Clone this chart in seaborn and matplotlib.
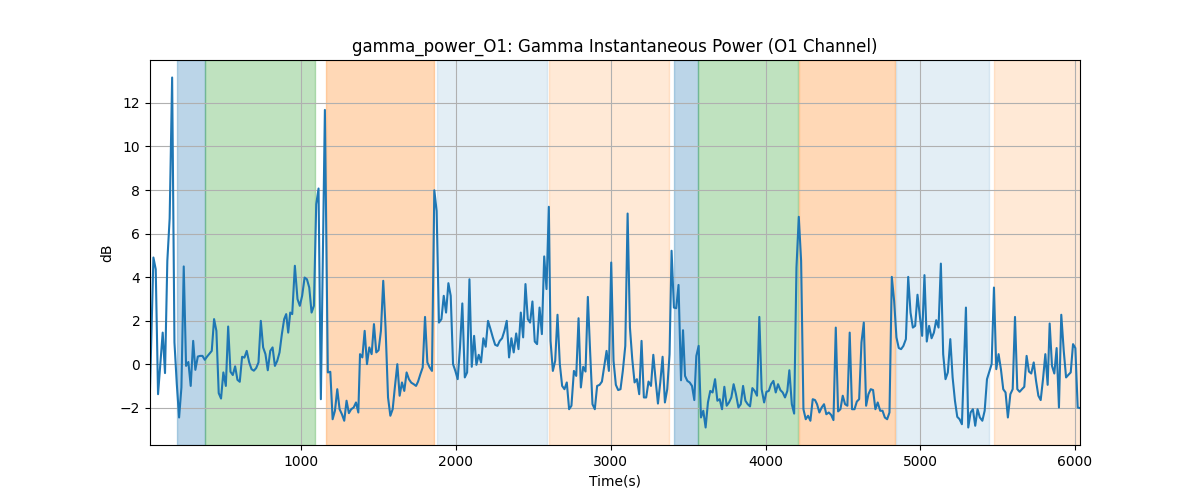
import matplotlib
matplotlib.use("Agg")
import matplotlib.pyplot as plt
import seaborn as sns
import pandas as pd

time_s = [
    23, 45, 60, 75, 105, 120, 135, 150, 166, 181, 196, 211, 226, 241, 256, 271, 286, 302, 316, 332,
    347, 362, 377, 392, 407, 422, 437, 452, 467, 482, 497, 513, 528, 543, 558, 573, 588, 603, 618, 633,
    648, 664, 679, 694, 709, 724, 739, 754, 769, 784, 800, 815, 830, 845, 860, 875, 890,
    903, 916, 929, 942, 959, 976, 991, 1006, 1022, 1037, 1052, 1067, 1082, 1097, 1112, 1127, 1153,
    1172, 1188, 1203, 1218, 1233, 1248, 1263, 1278, 1293, 1308, 1323, 1339, 1354, 1369, 1380, 1395,
    1410, 1425, 1440, 1455, 1470, 1485, 1500, 1515, 1530, 1545, 1561, 1576, 1591, 1606, 1621, 1636,
    1651, 1666, 1681, 1696, 1711, 1727, 1742,
    1755, 1770, 1785, 1800, 1815, 1830, 1845, 1860, 1875, 1890, 1906, 1921, 1936, 1951, 1966, 1981,
    1996, 2011, 2026, 2041, 2057, 2072, 2087, 2102, 2117, 2132, 2147, 2162, 2177, 2192, 2207, 2223,
    2238, 2253, 2268, 2283, 2298, 2313, 2328, 2343, 2358, 2373, 2389, 2404, 2419, 2434, 2449, 2464,
    2479, 2494, 2509, 2524, 2540, 2555, 2570, 2585, 2600,
    2611, 2626, 2641, 2656, 2671, 2686, 2701, 2716, 2731, 2746, 2762, 2777, 2792, 2807, 2822, 2837,
    2852, 2867, 2882, 2897, 2912, 2928, 2943, 2958, 2973, 2988, 3003, 3018, 3033, 3048, 3063, 3078,
    3094, 3109, 3124, 3139, 3154, 3169, 3184, 3199, 3214, 3229, 3244, 3260, 3275, 3290, 3305, 3320,
    3335, 3350, 3365, 3380, 3393, 3408, 3423, 3438, 3454, 3467,
    3480, 3495, 3510, 3525, 3540, 3553, 3568, 3583, 3598, 3613, 3628, 3643, 3658, 3674, 3689, 3704,
    3719, 3734, 3749, 3764, 3779, 3794, 3809, 3825, 3840, 3855, 3870, 3885, 3900, 3915, 3930, 3945,
    3960, 3975, 3991, 4006, 4021, 4036, 4051, 4066, 4081, 4096, 4111, 4126, 4141, 4154, 4170, 4185,
    4200, 4215, 4230, 4245, 4260, 4275, 4290, 4305, 4320,
    4333, 4348, 4363, 4378, 4393, 4409, 4424, 4439, 4454, 4469, 4484, 4499, 4514, 4529, 4544, 4559,
    4575, 4590, 4605, 4620, 4635, 4650, 4665, 4680, 4695, 4710, 4725, 4741, 4756, 4771, 4786, 4801,
    4816, 4831, 4846, 4861, 4876, 4891, 4907, 4922, 4937, 4952, 4967, 4982, 4997, 5012, 5027, 5042,
    5057, 5073, 5088, 5103, 5118, 5133, 5148, 5163, 5178, 5194,
    5209, 5224, 5239, 5254, 5269, 5295, 5310, 5325, 5340, 5355, 5370, 5385, 5401, 5416, 5431, 5446,
    5461, 5476, 5491, 5506, 5521, 5536, 5551, 5566, 5582, 5597, 5612, 5627, 5642, 5657, 5672, 5687,
    5702, 5717, 5733, 5748, 5763, 5778, 5793, 5808, 5823, 5836, 5851, 5866, 5881, 5896, 5911, 5927,
    5942, 5957, 5972, 5987, 6002, 6017, 6032,
]

power_db = [
    -1.15, 4.9, 4.36, -1.38, 1.45, -0.41, 4.75, 6.7, 13.17, 1.0, -0.9, -2.45, -1.07, 4.49, -0.08, 0.1, -1.0, 1.07, -0.26, 0.35,
    0.38, 0.38, 0.2, 0.35, 0.48, 0.61, 2.07, 1.53, -1.33, -1.58, -0.38, -1.0, 1.73, -0.35, -0.5, -0.1, -0.72, -0.81, 0.34, 0.3,
    0.61, 0.08, -0.23, -0.3, -0.18, 0.08, 1.99, 0.77, 0.46, -0.28, 0.61, 0.77, -0.08, 0.15, 0.54, 1.38, 2.07,
    2.3, 1.45, 2.37, 2.3, 4.52, 2.99, 2.68, 3.14, 3.98, 3.9, 3.52, 2.37, 2.68, 7.35, 8.07, -1.61, 11.68,
    -0.38, -0.35, -2.53, -2.14, -1.15, -2.07, -2.3, -2.6, -1.68, -2.25, -2.07, -1.99, -1.76, -2.22, 0.46, 0.31,
    1.53, 0.0, 0.77, 0.46, 1.84, 0.54, 0.64, 1.53, 3.83, 1.68, -1.53, -2.37, -2.07, -1.0, 0.0, -1.45,
    -0.84, -1.23, -0.38, -0.69, -0.85, -0.92, -1.0,
    -0.8, -0.46, -0.15, 2.17, 0.08, -0.15, -0.31, 7.99, 7.04, 1.91, 2.07, 3.14, 2.37, 3.72, 3.14, 0.0,
    -0.31, -0.69, 0.77, 2.79, -0.61, -0.38, 3.9, -0.12, 1.3, -0.03, 0.43, 0.08, 1.19, 0.8, 1.99, 1.61,
    1.23, 0.89, 0.84, 1.07, 1.19, 1.53, 1.99, 0.31, 1.19, 0.54, 1.41, 0.69, 2.37, 1.23, 3.68, 2.07,
    1.91, 2.88, 1.04, 0.92, 2.6, 1.38, 4.95, 3.45, 7.23,
    1.07, -0.31, 0.15, 2.27, 0.0, -1.0, -1.15, -0.84, -2.07, -1.91, -0.31, -0.54, 2.11, -1.07, -0.12, -0.34,
    3.09, 0.54, -1.84, -2.07, -1.0, -0.95, -0.8, -0.08, 0.61, -0.31, 4.67, 0.15, -0.95, -1.19, -1.15, -0.31,
    0.84, 6.92, 1.68, 0.23, -0.84, -0.69, -1.38, 1.07, -1.53, -1.53, -0.8, -1.0, 0.43, -0.74, -1.81, -0.84,
    0.34, -1.76, -1.15, 0.46, 5.21, 2.6, 2.57, 3.64, -0.74, 1.56,
    -0.54, -0.77, -0.84, -1.0, -1.65, 0.38, 0.84, -2.45, -2.14, -2.91, -1.76, -1.23, -1.3, -0.69, -1.68, -1.61,
    -2.07, -1.04, -1.91, -1.76, -1.53, -0.92, -1.38, -1.99, -1.84, -1.0, -1.68, -1.84, -1.94, -1.1, -1.23, -1.45,
    2.17, -1.15, -1.76, -1.27, -1.23, -0.92, -0.77, -1.3, -0.92, -1.19, -1.3, -1.53, -1.23, -0.28, -1.84, -2.27,
    4.44, 6.77, 4.75, -2.07, -2.53, -2.37, -2.6, -1.61, -1.65,
    -1.84, -2.22, -1.99, -1.84, -2.3, -2.22, -2.33, -2.57, 1.68, -2.17, -2.07, -1.45, -1.84, -1.91, 1.45, -2.07,
    -2.07, -1.72, -1.61, 1.0, 1.91, -1.91, -1.38, -1.15, -1.19, -2.07, -1.76, -2.14, -2.14, -2.45, -2.53, -2.22,
    4.01, 2.91, 1.23, 0.74, 0.69, 0.84, 1.15, 4.01, 2.37, 1.68, 1.76, 3.19, 2.22, 1.3, 4.09, 1.04,
    1.76, 1.19, 1.45, 2.02, 1.68, 4.62, 0.46, -0.69, -0.38, 1.15,
    -0.61, -1.68, -2.42, -2.53, -2.76, 2.6, -2.91, -2.22, -2.07, -2.83, -2.07, -2.45, -2.6, -2.14, -0.69, -0.34,
    0.0, 3.52, -0.23, 0.46, -0.23, -1.15, -1.3, -2.45, -1.38, -1.15, 2.17, -1.15, -1.27, -1.15, -1.04, 0.38,
    -0.34, -0.43, 0.08, -0.77, -1.45, -1.65, -0.69, 0.46, -0.95, 1.87, -0.08, -0.43, 0.74, -1.99, 2.27, 0.61,
    -0.61, -0.49, -0.38, 0.92, 0.74, -1.99, -2.02,
]

span_starts = [198, 379, 1161, 1880, 2604, 3406, 3562, 4214, 4842, 5476]
span_ends = [379, 1091, 1860, 2585, 3374, 3562, 4208, 4836, 5444, 6100]
span_colors = ["tab:blue", "tab:green", "tab:orange", "tab:blue", "tab:orange",
               "tab:blue", "tab:green", "tab:orange", "tab:blue", "tab:orange"]
span_alphas = [0.3, 0.3, 0.3, 0.12, 0.17, 0.3, 0.3, 0.3, 0.12, 0.17]

df = pd.DataFrame({"Time(s)": time_s, "dB": power_db})

fig, ax = plt.subplots(figsize=(12, 5), dpi=100)
for s, e, c, a in zip(span_starts, span_ends, span_colors, span_alphas):
    ax.axvspan(s, e, color=c, alpha=a)
sns.lineplot(data=df, x="Time(s)", y="dB", ax=ax, color="tab:blue", linewidth=1.5, sort=False)
ax.set_xlim(min(time_s), max(time_s))
ax.grid(True)
ax.set_title("gamma_power_O1: Gamma Instantaneous Power (O1 Channel)")
ax.set_xlabel("Time(s)")
ax.set_ylabel("dB")
fig.savefig("out.png", dpi=100)
